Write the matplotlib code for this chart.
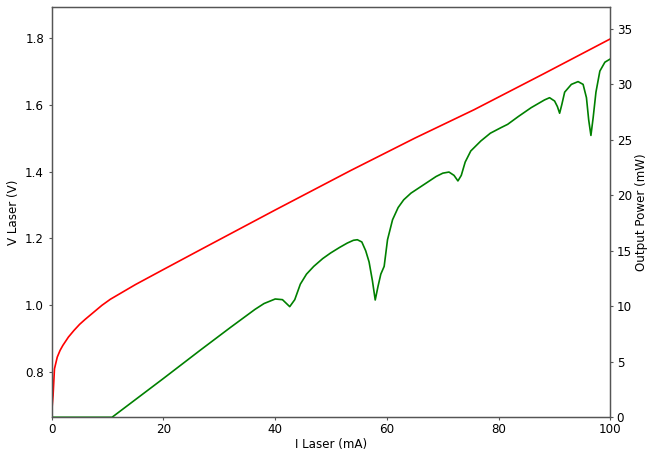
import matplotlib
matplotlib.use("Agg")
import matplotlib.pyplot as plt

# Laser voltage (red)
i_v = [0, 0.1, 0.25, 0.5, 1, 1.5, 2, 3, 4, 5, 6, 7, 8, 9, 10.5, 15, 20, 26.6, 40, 53.5, 65, 75.6, 88, 100]
v_laser = [0.665, 0.70, 0.73, 0.81, 0.845, 0.865, 0.88, 0.905, 0.925, 0.943, 0.958, 0.972, 0.986, 1.0,
           1.018, 1.062, 1.107, 1.166, 1.285, 1.403, 1.500, 1.585, 1.692, 1.797]

# Output power (green)
i_p = [0, 10.8, 20, 26.6, 32, 36.4, 38, 40.0, 41.3, 42.6, 43.5, 44.5, 45.6, 46.9, 48.5, 49.9, 51.5, 52.9,
       54.0, 54.7, 55.5, 56.2, 56.8, 57.4, 57.9, 58.4, 58.9, 59.5, 60.1, 61.0, 62.0, 63.0, 64.3, 65.8,
       67.3, 68.8, 70.0, 71.1, 72.0, 72.7, 73.3, 74.0, 75.0, 76.8, 78.5, 80.4, 81.6, 83.5, 85.8, 88.2,
       89.1, 90.0, 90.5, 90.9, 91.3, 91.8, 93.0, 94.2, 95.1, 95.7, 96.1, 96.5, 96.9, 97.4, 98.1, 99.0, 100]
p_out = [0, 0, 3.5, 6.05, 8.1, 9.73, 10.25, 10.66, 10.6, 9.97, 10.6, 12.0, 12.9, 13.6, 14.3, 14.8, 15.3,
         15.7, 15.95, 16.0, 15.8, 15.0, 14.0, 12.3, 10.57, 11.8, 12.9, 13.6, 16.0, 17.8, 18.9, 19.6, 20.2,
         20.7, 21.2, 21.7, 22.0, 22.1, 21.8, 21.3, 21.8, 23.0, 24.0, 24.9, 25.6, 26.1, 26.4, 27.1, 27.9,
         28.6, 28.8, 28.5, 28.0, 27.4, 28.2, 29.3, 30.0, 30.25, 30.0, 28.8, 26.8, 25.4, 27.0, 29.3, 31.2,
         32.0, 32.3]

FS = 8.6
fig = plt.figure(figsize=(6.5, 4.5), dpi=100)
ax = fig.add_axes([0.0795, 0.0727, 0.8597, 0.9124])
ax.plot(i_v, v_laser, color="red", lw=1.2)
ax.set_xlim(0, 100)
ax.set_ylim(0.665, 1.893)
ax.set_xlabel("I Laser (mA)", fontsize=FS, labelpad=1.5)
ax.set_ylabel("V Laser (V)", fontsize=FS, labelpad=3.5)
ax.tick_params(axis="both", labelsize=FS, length=2.5, width=0.8, color="#555555")
ax.tick_params(axis="x", pad=1.5)
ax.tick_params(axis="y", pad=3.0)

ax2 = ax.twinx()
ax2.plot(i_p, p_out, color="green", lw=1.2)
ax2.set_ylim(0, 37)
ax2.set_ylabel("Output Power (mW)", fontsize=FS, labelpad=2.5)
ax2.tick_params(axis="y", labelsize=FS, length=2.5, width=0.8, pad=2, color="#555555")

for a in (ax, ax2):
    for s in a.spines.values():
        s.set_color("#555555")
        s.set_linewidth(0.9)

fig.savefig("out.png", dpi=100)
